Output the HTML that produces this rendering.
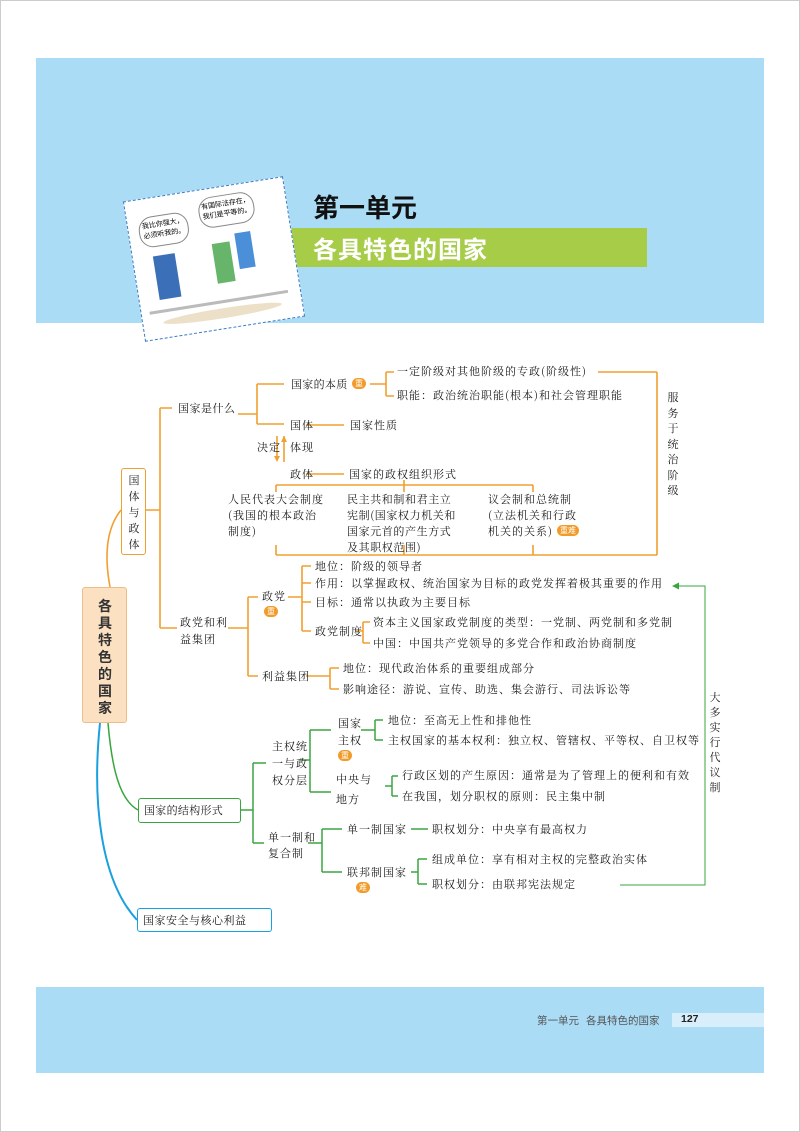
<!DOCTYPE html>
<html><head><meta charset="utf-8"><style>
body{margin:0;background:#fff}
#p{position:relative;width:800px;height:1132px;overflow:hidden;background:#fff;font-family:"Liberation Sans","Noto Sans CJK SC",sans-serif;}
.t{position:absolute;font-size:11px;line-height:14px;color:#222;white-space:nowrap;letter-spacing:1px;font-family:"Noto Serif CJK SC","Noto Sans CJK SC",serif}
.b{position:absolute;background:#f19b2a;color:#fff;font-size:8px;line-height:11px;border-radius:6px;padding:0 3px;font-family:"Noto Sans CJK SC",sans-serif}
.v{position:absolute;font-size:11px;line-height:16px;width:14px;text-align:center;color:#222;font-family:"Noto Serif CJK SC",serif}
</style></head><body><div id="p">
<div style="position:absolute;left:0;top:0;width:798px;height:1130px;border:1px solid #ccc"></div>
<div style="position:absolute;left:36px;top:58px;width:728px;height:265px;background:#abdcf5"></div>
<div style="position:absolute;left:36px;top:987px;width:728px;height:86px;background:#abdcf5"></div>
<div style="position:absolute;left:672px;top:1013px;width:92px;height:14px;background:#d8eefa"></div>
<div style="position:absolute;left:537px;top:1013px;font-size:10.5px;color:#555;font-family:'Noto Sans CJK SC',sans-serif">第一单元&nbsp;&nbsp;&nbsp;各具特色的国家</div>
<div style="position:absolute;left:681px;top:1013px;font-size:10.5px;font-weight:bold;color:#222">127</div>
<div style="position:absolute;left:277px;top:228px;width:370px;height:39px;background:#a6cc48"></div>
<div style="position:absolute;left:313px;top:188px;font-size:26px;font-weight:bold;color:#111;font-family:'Noto Sans CJK SC',sans-serif">第一单元</div>
<div style="position:absolute;left:313px;top:230px;font-size:24px;font-weight:bold;color:#fff;font-family:'Noto Sans CJK SC',sans-serif;letter-spacing:1px">各具特色的国家</div>
<div style="position:absolute;left:133px;top:188px;width:160px;height:140px;background:#fff;border:1px dashed #3a7cc4;transform:rotate(-9deg)">
<div style="position:absolute;left:10px;top:18px;width:48px;height:26px;border:1px solid #888;border-radius:14px;font-size:7px;text-align:center;padding-top:3px">我比你强大，必须听我的。</div>
<div style="position:absolute;left:72px;top:8px;width:54px;height:26px;border:1px solid #888;border-radius:14px;font-size:7px;text-align:center;padding-top:3px">有国际法存在，我们是平等的。</div>
<div style="position:absolute;left:20px;top:58px;width:22px;height:44px;background:#3b6fb8"></div>
<div style="position:absolute;left:80px;top:55px;width:18px;height:40px;background:#67b56a"></div>
<div style="position:absolute;left:104px;top:48px;width:16px;height:36px;background:#4a8fd8"></div>
<div style="position:absolute;left:8px;top:112px;width:140px;height:3px;background:#bbb"></div>
<div style="position:absolute;left:20px;top:120px;width:120px;height:10px;background:#ece0c8;border-radius:50%"></div>
</div>
<svg style="position:absolute;left:0;top:0" width="800" height="1132" fill="none">
<g stroke="#f0a030" stroke-width="1.6">
<path d="M110 587 C105 560 105 530 121 510"/>
<path d="M146 510 H160 M160 408 V628 M160 408 H172 M160 628 H177"/>
<path d="M238 414 H257 M257 384 V424 M257 384 H284 M257 424 H284"/>
<path d="M370 384 H386 M386 372 V396 M386 372 H394 M386 396 H394"/>
<path d="M306 425 H344 M306 474 H344"/>
<path d="M277 436 V460 M284 462 V436"/>
<path d="M404 480 V485 M276 485 H533 M276 485 V492 M404 485 V492 M533 485 V492"/>
<path d="M276 545 V555 M404 545 V555 M533 545 V555 M276 555 H657 M657 372 V555 M598 372 H657"/>
<path d="M228 628 H248 M248 597 V676 M248 597 H258 M248 676 H258"/>
<path d="M288 597 H302 M302 566 V631 M302 566 H311 M302 583 H311 M302 602 H311 M302 631 H311"/>
<path d="M356 631 H363 M363 622 V643 M363 622 H370 M363 643 H370"/>
<path d="M306 676 H330 M330 668 V689 M330 668 H339 M330 689 H339"/>
</g>
<path d="M277 462 l-3 -6 h6z M284 436 l-3 6 h6z" fill="#f0a030"/>
<g stroke="#3aa540" stroke-width="1.5">
<path d="M108 723 C112 770 120 800 138 810"/>
<path d="M241 810 H253 M253 763 V843 M253 763 H266 M253 843 H264"/>
<path d="M300 760 H310 M310 730 V792 M310 730 H331 M310 792 H331"/>
<path d="M361 730 H375 M375 720 V740 M375 720 H383 M375 740 H383"/>
<path d="M385 786 H392 M392 776 V796 M392 776 H398 M392 796 H398"/>
<path d="M308 843 H322 M322 829 V872 M322 829 H342 M322 872 H342"/>
<path d="M411 829 H428"/>
<path d="M411 872 H418 M418 859 V884 M418 859 H427 M418 884 H427"/>
</g>
<g stroke="#3aa540" stroke-width="1"><path d="M620 885 H705 V586 H678"/></g>
<path d="M672 586 l7 -3.5 v7z" fill="#3aa540"/>
<path d="M100 723 C92 800 100 880 137 920" stroke="#1aa0e0" stroke-width="2"/>
</svg>
<div style="position:absolute;left:82px;top:587px;width:45px;height:136px;background:#fbe1c2;border:1px solid #eebd86;border-radius:3px;box-sizing:border-box"></div>
<div style="position:absolute;left:96px;top:598px;width:18px;font-size:14px;font-weight:bold;line-height:17px;text-align:center;font-family:'Noto Sans CJK SC',sans-serif;color:#333">各具特色的国家</div>
<div style="position:absolute;left:121px;top:468px;width:25px;height:87px;border:1.5px solid #f0a030;border-radius:3px;box-sizing:border-box"></div>
<div class="v" style="left:127px;top:472px;line-height:16px">国体与政体</div>
<div style="position:absolute;left:138px;top:798px;width:103px;height:25px;border:1.5px solid #3aa540;border-radius:3px;box-sizing:border-box"></div>
<div class="t" style="left:144px;top:803px;letter-spacing:0.3px">国家的结构形式</div>
<div style="position:absolute;left:137px;top:908px;width:135px;height:24px;border:1.5px solid #1aa0e0;border-radius:3px;box-sizing:border-box"></div>
<div class="t" style="left:143px;top:913px;letter-spacing:0.5px">国家安全与核心利益</div>

<div class="t" style="left:178px;top:401px;letter-spacing:0.5px">国家是什么</div>
<div class="t" style="left:291px;top:377px;letter-spacing:0.3px">国家的本质</div><div class="b" style="left:352px;top:378px">重</div>
<div class="t" style="left:397px;top:364px">一定阶级对其他阶级的专政(阶级性)</div>
<div class="t" style="left:397px;top:388px">职能：政治统治职能(根本)和社会管理职能</div>
<div class="t" style="left:290px;top:418px">国体</div><div class="t" style="left:350px;top:418px">国家性质</div>
<div class="t" style="left:257px;top:440px">决定</div><div class="t" style="left:290px;top:440px">体现</div>
<div class="t" style="left:290px;top:467px">政体</div><div class="t" style="left:349px;top:467px">国家的政权组织形式</div>
<div class="t" style="left:228px;top:491px;line-height:16px">人民代表大会制度<br>(我国的根本政治<br>制度)</div>
<div class="t" style="left:347px;top:491px;line-height:16px;letter-spacing:0.6px">民主共和制和君主立<br>宪制(国家权力机关和<br>国家元首的产生方式<br>及其职权范围)</div>
<div class="t" style="left:488px;top:491px;line-height:16px">议会制和总统制<br>(立法机关和行政<br>机关的关系)</div><div class="b" style="left:557px;top:525px">重难</div>
<div class="v" style="left:666px;top:390px;line-height:15.5px">服务于统治阶级</div>

<div class="t" style="left:180px;top:614px;line-height:17px">政党和利<br>益集团</div>
<div class="t" style="left:262px;top:589px">政党</div><div class="b" style="left:264px;top:606px">重</div>
<div class="t" style="left:315px;top:559px">地位：阶级的领导者</div>
<div class="t" style="left:315px;top:576px">作用：以掌握政权、统治国家为目标的政党发挥着极其重要的作用</div>
<div class="t" style="left:315px;top:595px">目标：通常以执政为主要目标</div>
<div class="t" style="left:315px;top:624px">政党制度</div>
<div class="t" style="left:373px;top:615px">资本主义国家政党制度的类型：一党制、两党制和多党制</div>
<div class="t" style="left:373px;top:636px">中国：中国共产党领导的多党合作和政治协商制度</div>
<div class="t" style="left:262px;top:669px">利益集团</div>
<div class="t" style="left:343px;top:661px">地位：现代政治体系的重要组成部分</div>
<div class="t" style="left:343px;top:682px">影响途径：游说、宣传、助选、集会游行、司法诉讼等</div>

<div class="t" style="left:272px;top:738px;line-height:17px">主权统<br>一与政<br>权分层</div>
<div class="t" style="left:338px;top:715px;line-height:17px">国家<br>主权</div><div class="b" style="left:338px;top:750px">重</div>
<div class="t" style="left:388px;top:713px">地位：至高无上性和排他性</div>
<div class="t" style="left:388px;top:733px">主权国家的基本权利：独立权、管辖权、平等权、自卫权等</div>
<div class="t" style="left:336px;top:769px;line-height:20px">中央与<br>地方</div>
<div class="t" style="left:402px;top:768px">行政区划的产生原因：通常是为了管理上的便利和有效</div>
<div class="t" style="left:402px;top:789px">在我国，划分职权的原则：民主集中制</div>
<div class="t" style="left:268px;top:829px;line-height:16px">单一制和<br>复合制</div>
<div class="t" style="left:347px;top:822px">单一制国家</div>
<div class="t" style="left:432px;top:822px">职权划分：中央享有最高权力</div>
<div class="t" style="left:347px;top:865px">联邦制国家</div><div class="b" style="left:356px;top:882px">难</div>
<div class="t" style="left:432px;top:852px">组成单位：享有相对主权的完整政治实体</div>
<div class="t" style="left:432px;top:877px">职权划分：由联邦宪法规定</div>
<div class="v" style="left:708px;top:690px;line-height:15px">大多实行代议制</div>
</div></body></html>
